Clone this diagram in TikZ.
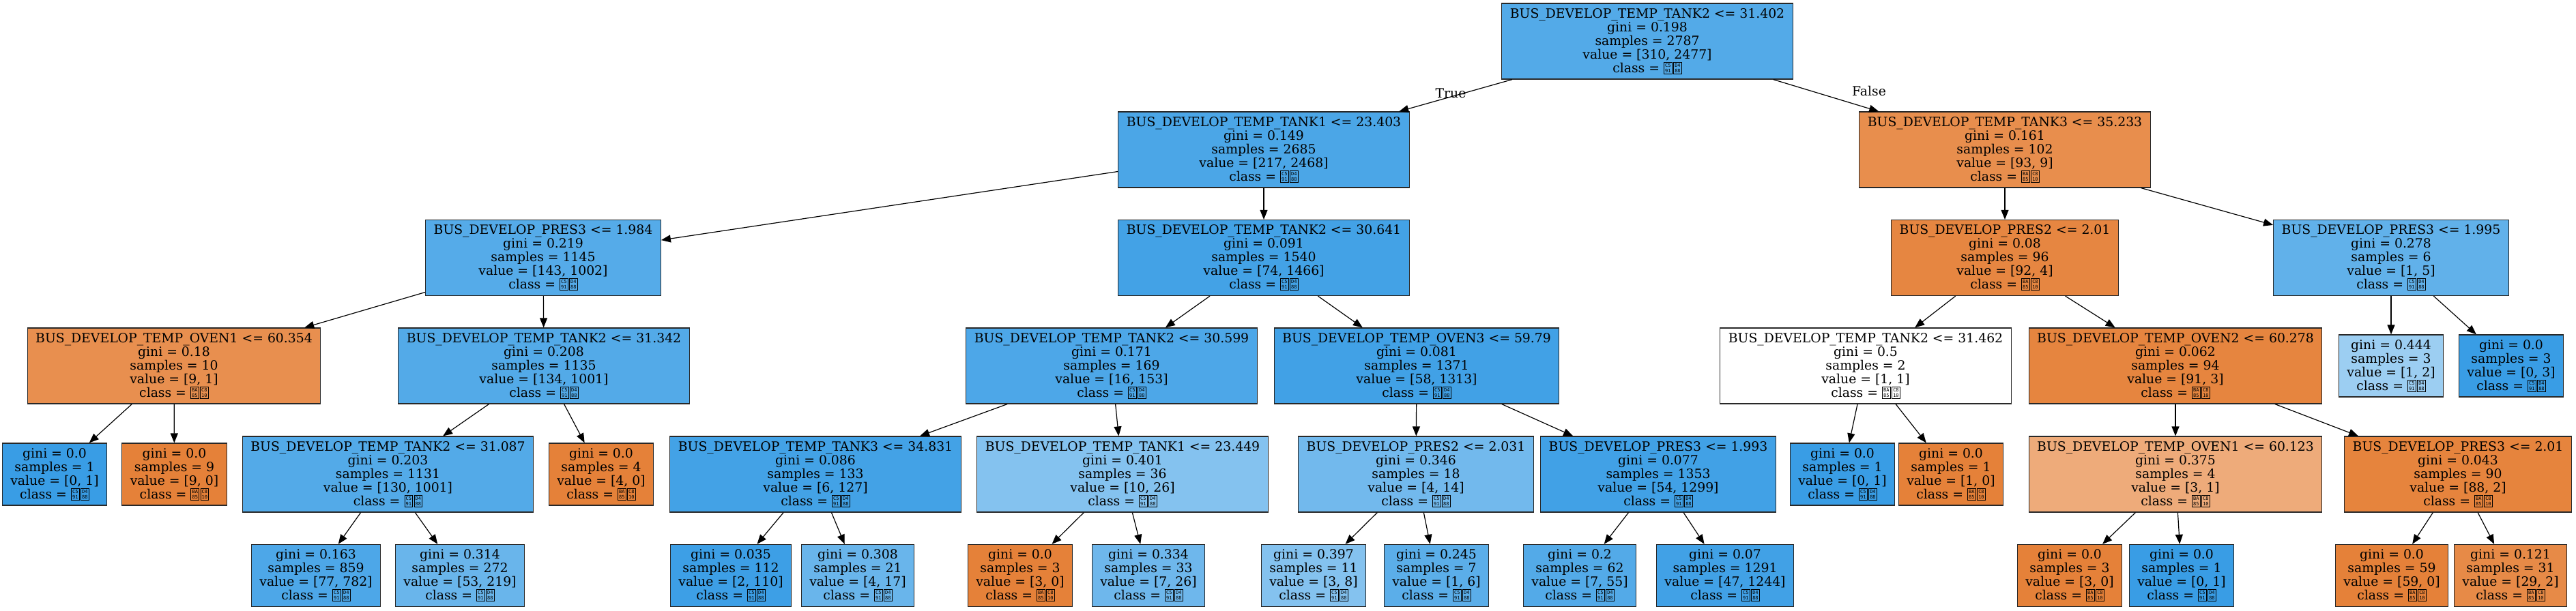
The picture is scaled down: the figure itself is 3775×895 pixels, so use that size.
\documentclass[tikz,border=0pt]{standalone}
\usepackage{fontspec}
\setmainfont{DejaVu Serif}
\newfontfamily\hexfont{DejaVu Sans Mono}
\usetikzlibrary{arrows.meta}
\definecolor{clsorange}{RGB}{229,129,57}
\definecolor{clsblue}{RGB}{57,157,229}
\definecolor{boxborder}{RGB}{40,40,40}
\newcommand{\tofu}[2]{{\setlength{\fboxsep}{1.2pt}\setlength{\fboxrule}{0.9pt}\fbox{\hexfont\fontsize{7}{7}\selectfont\shortstack{#1\\#2}}}}
\newcommand{\clsgood}{\tofu{C5}{91}\kern1.5pt\tofu{D4}{88}}
\newcommand{\clsbad}{\tofu{BA}{85}\kern1.5pt\tofu{C8}{10}}
\tikzset{
  treenode/.style={
    draw=boxborder, line width=1.2pt, rectangle, align=center,
    inner xsep=12pt, inner ysep=0pt, font=\fontsize{18.8}{20}\selectfont
  },
  splitnode/.style={treenode, minimum height=111pt},
  leafnode/.style={treenode, minimum height=91pt},
  bfill/.style={fill=clsblue!#1!white},
  ofill/.style={fill=clsorange!#1!white},
  treeedge/.style={
    -{Triangle[length=14pt,width=11pt]}, line width=1.2pt, draw=black
  },
  edgelabel/.style={font=\fontsize{18.8}{20}\selectfont}
}
\def\rowa{60.5}
\def\rowb{219.5}
\def\rowc{378}
\def\rowd{536.5}
\def\rowe{695.5}
\def\rowf{844}

\begin{document}
\begin{tikzpicture}[x=1pt, y=-1pt]
  \useasboundingbox (0,0) rectangle (3775,895);

  \node[splitnode, bfill=87] (root) at (2414,\rowa) {BUS\_DEVELOP\_TEMP\_TANK2 <= 31.402\\gini = 0.198\\samples = 2787\\value = [310, 2477]\\class = \clsgood};

  \node[splitnode, bfill=91] (tank1) at (1852,\rowb) {BUS\_DEVELOP\_TEMP\_TANK1 <= 23.403\\gini = 0.149\\samples = 2685\\value = [217, 2468]\\class = \clsgood};
  \node[splitnode, ofill=90] (tank3) at (2938,\rowb) {BUS\_DEVELOP\_TEMP\_TANK3 <= 35.233\\gini = 0.161\\samples = 102\\value = [93, 9]\\class = \clsbad};

  \node[splitnode, bfill=86] (pres3a) at (796,\rowc) {BUS\_DEVELOP\_PRES3 <= 1.984\\gini = 0.219\\samples = 1145\\value = [143, 1002]\\class = \clsgood};
  \node[splitnode, bfill=95] (tank2b) at (1852,\rowc) {BUS\_DEVELOP\_TEMP\_TANK2 <= 30.641\\gini = 0.091\\samples = 1540\\value = [74, 1466]\\class = \clsgood};
  \node[splitnode, ofill=96] (pres2a) at (2938,\rowc) {BUS\_DEVELOP\_PRES2 <= 2.01\\gini = 0.08\\samples = 96\\value = [92, 4]\\class = \clsbad};
  \node[splitnode, bfill=80] (pres3b) at (3504,\rowc) {BUS\_DEVELOP\_PRES3 <= 1.995\\gini = 0.278\\samples = 6\\value = [1, 5]\\class = \clsgood};

  \node[splitnode, ofill=89] (oven1a) at (255,\rowd) {BUS\_DEVELOP\_TEMP\_OVEN1 <= 60.354\\gini = 0.18\\samples = 10\\value = [9, 1]\\class = \clsbad};
  \node[splitnode, bfill=87] (tank2c) at (797,\rowd) {BUS\_DEVELOP\_TEMP\_TANK2 <= 31.342\\gini = 0.208\\samples = 1135\\value = [134, 1001]\\class = \clsgood};
  \node[splitnode, bfill=90] (tank2d) at (1629,\rowd) {BUS\_DEVELOP\_TEMP\_TANK2 <= 30.599\\gini = 0.171\\samples = 169\\value = [16, 153]\\class = \clsgood};
  \node[splitnode, bfill=96] (oven3) at (2076,\rowd) {BUS\_DEVELOP\_TEMP\_OVEN3 <= 59.79\\gini = 0.081\\samples = 1371\\value = [58, 1313]\\class = \clsgood};
  \node[splitnode, fill=white] (tank2e) at (2734,\rowd) {BUS\_DEVELOP\_TEMP\_TANK2 <= 31.462\\gini = 0.5\\samples = 2\\value = [1, 1]\\class = \clsbad};
  \node[splitnode, ofill=97] (oven2) at (3188,\rowd) {BUS\_DEVELOP\_TEMP\_OVEN2 <= 60.278\\gini = 0.062\\samples = 94\\value = [91, 3]\\class = \clsbad};
  \node[leafnode, bfill=50] (lfa) at (3504,\rowd) {gini = 0.444\\samples = 3\\value = [1, 2]\\class = \clsgood};
  \node[leafnode, bfill=100] (lfb) at (3680,\rowd) {gini = 0.0\\samples = 3\\value = [0, 3]\\class = \clsgood};

  \node[leafnode, bfill=100] (lfc) at (80,\rowe) {gini = 0.0\\samples = 1\\value = [0, 1]\\class = \clsgood};
  \node[leafnode, ofill=100] (lfd) at (255.5,\rowe) {gini = 0.0\\samples = 9\\value = [9, 0]\\class = \clsbad};
  \node[splitnode, bfill=87] (tank2f) at (568.5,\rowe) {BUS\_DEVELOP\_TEMP\_TANK2 <= 31.087\\gini = 0.203\\samples = 1131\\value = [130, 1001]\\class = \clsgood};
  \node[leafnode, ofill=100] (lfe) at (881,\rowe) {gini = 0.0\\samples = 4\\value = [4, 0]\\class = \clsbad};
  \node[splitnode, bfill=95] (tank3b) at (1195,\rowe) {BUS\_DEVELOP\_TEMP\_TANK3 <= 34.831\\gini = 0.086\\samples = 133\\value = [6, 127]\\class = \clsgood};
  \node[splitnode, bfill=62] (tank1b) at (1645,\rowe) {BUS\_DEVELOP\_TEMP\_TANK1 <= 23.449\\gini = 0.401\\samples = 36\\value = [10, 26]\\class = \clsgood};
  \node[splitnode, bfill=71] (pres2b) at (2075,\rowe) {BUS\_DEVELOP\_PRES2 <= 2.031\\gini = 0.346\\samples = 18\\value = [4, 14]\\class = \clsgood};
  \node[splitnode, bfill=96] (pres3c) at (2430,\rowe) {BUS\_DEVELOP\_PRES3 <= 1.993\\gini = 0.077\\samples = 1353\\value = [54, 1299]\\class = \clsgood};
  \node[leafnode, bfill=100] (lff) at (2700,\rowe) {gini = 0.0\\samples = 1\\value = [0, 1]\\class = \clsgood};
  \node[leafnode, ofill=100] (lfg) at (2859,\rowe) {gini = 0.0\\samples = 1\\value = [1, 0]\\class = \clsbad};
  \node[splitnode, ofill=67] (oven1b) at (3188,\rowe) {BUS\_DEVELOP\_TEMP\_OVEN1 <= 60.123\\gini = 0.375\\samples = 4\\value = [3, 1]\\class = \clsbad};
  \node[splitnode, ofill=98] (pres3d) at (3602,\rowe) {BUS\_DEVELOP\_PRES3 <= 2.01\\gini = 0.043\\samples = 90\\value = [88, 2]\\class = \clsbad};

  \node[leafnode, bfill=90] (lfh) at (463,\rowf) {gini = 0.163\\samples = 859\\value = [77, 782]\\class = \clsgood};
  \node[leafnode, bfill=76] (lfi) at (674,\rowf) {gini = 0.314\\samples = 272\\value = [53, 219]\\class = \clsgood};
  \node[leafnode, bfill=98] (lfj) at (1071,\rowf) {gini = 0.035\\samples = 112\\value = [2, 110]\\class = \clsgood};
  \node[leafnode, bfill=76] (lfk) at (1257,\rowf) {gini = 0.308\\samples = 21\\value = [4, 17]\\class = \clsgood};
  \node[leafnode, ofill=100] (lfl) at (1495,\rowf) {gini = 0.0\\samples = 3\\value = [3, 0]\\class = \clsbad};
  \node[leafnode, bfill=73] (lfm) at (1683,\rowf) {gini = 0.334\\samples = 33\\value = [7, 26]\\class = \clsgood};
  \node[leafnode, bfill=62] (lfn) at (1925,\rowf) {gini = 0.397\\samples = 11\\value = [3, 8]\\class = \clsgood};
  \node[leafnode, bfill=83] (lfo) at (2105,\rowf) {gini = 0.245\\samples = 7\\value = [1, 6]\\class = \clsgood};
  \node[leafnode, bfill=87] (lfp) at (2315,\rowf) {gini = 0.2\\samples = 62\\value = [7, 55]\\class = \clsgood};
  \node[leafnode, bfill=96] (lfq) at (2528,\rowf) {gini = 0.07\\samples = 1291\\value = [47, 1244]\\class = \clsgood};
  \node[leafnode, ofill=100] (lfr) at (3033,\rowf) {gini = 0.0\\samples = 3\\value = [3, 0]\\class = \clsbad};
  \node[leafnode, bfill=100] (lfs) at (3197,\rowf) {gini = 0.0\\samples = 1\\value = [0, 1]\\class = \clsgood};
  \node[leafnode, ofill=100] (lft) at (3505,\rowf) {gini = 0.0\\samples = 59\\value = [59, 0]\\class = \clsbad};
  \node[leafnode, ofill=93] (lfu) at (3679,\rowf) {gini = 0.121\\samples = 31\\value = [29, 2]\\class = \clsbad};

  \draw[treeedge] (root) -- (tank1);
  \draw[treeedge] (root) -- (tank3);
  \node[edgelabel] (truelbl) at (2126,137) {True};
  \node[edgelabel] (falselbl) at (2739,133) {False};

  \draw[treeedge] (tank1) -- (pres3a);
  \draw[treeedge] (tank1) -- (tank2b);
  \draw[treeedge] (tank3) -- (pres2a);
  \draw[treeedge] (tank3) -- (pres3b);

  \draw[treeedge] (pres3a) -- (oven1a);
  \draw[treeedge] (pres3a) -- (tank2c);
  \draw[treeedge] (tank2b) -- (tank2d);
  \draw[treeedge] (tank2b) -- (oven3);
  \draw[treeedge] (pres2a) -- (tank2e);
  \draw[treeedge] (pres2a) -- (oven2);
  \draw[treeedge] (pres3b) -- (lfa);
  \draw[treeedge] (pres3b) -- (lfb);

  \draw[treeedge] (oven1a) -- (lfc);
  \draw[treeedge] (oven1a) -- (lfd);
  \draw[treeedge] (tank2c) -- (tank2f);
  \draw[treeedge] (tank2c) -- (lfe);
  \draw[treeedge] (tank2d) -- (tank3b);
  \draw[treeedge] (tank2d) -- (tank1b);
  \draw[treeedge] (oven3) -- (pres2b);
  \draw[treeedge] (oven3) -- (pres3c);
  \draw[treeedge] (tank2e) -- (lff);
  \draw[treeedge] (tank2e) -- (lfg);
  \draw[treeedge] (oven2) -- (oven1b);
  \draw[treeedge] (oven2) -- (pres3d);

  \draw[treeedge] (tank2f) -- (lfh);
  \draw[treeedge] (tank2f) -- (lfi);
  \draw[treeedge] (tank3b) -- (lfj);
  \draw[treeedge] (tank3b) -- (lfk);
  \draw[treeedge] (tank1b) -- (lfl);
  \draw[treeedge] (tank1b) -- (lfm);
  \draw[treeedge] (pres2b) -- (lfn);
  \draw[treeedge] (pres2b) -- (lfo);
  \draw[treeedge] (pres3c) -- (lfp);
  \draw[treeedge] (pres3c) -- (lfq);
  \draw[treeedge] (oven1b) -- (lfr);
  \draw[treeedge] (oven1b) -- (lfs);
  \draw[treeedge] (pres3d) -- (lft);
  \draw[treeedge] (pres3d) -- (lfu);
\end{tikzpicture}
\end{document}
